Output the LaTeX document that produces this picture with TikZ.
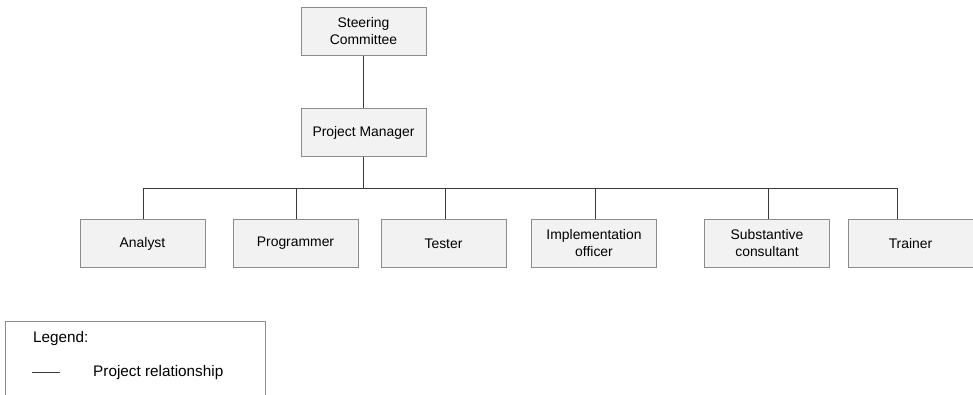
\documentclass[tikz,border=0pt]{standalone}
\usepackage{fontspec}
\setmainfont{Liberation Sans}
\begin{document}
\begin{tikzpicture}[x=1pt,y=-1pt,
  every node/.style={font=\fontsize{13.9}{17}\selectfont},
  role/.style={draw=boxline, fill=boxfill, line width=1pt, minimum width=125pt, minimum height=48pt, inner sep=0pt, align=center, text=black},
  legendtext/.style={anchor=west, inner sep=0pt, font=\fontsize{15.3}{18}\selectfont},
  link/.style={draw=linkcol, line width=1pt}]
\definecolor{boxfill}{HTML}{F2F2F2}
\definecolor{boxline}{HTML}{8C8C8C}
\definecolor{linkcol}{HTML}{3A3A3A}
\useasboundingbox (0,0) rectangle (973,395);
\clip (0,0) rectangle (973,395);

% top of the hierarchy
\node[role] (sc) at (363.5,31.5) {Steering\\Committee};
\node[role] (pm) at (363.5,132.5) {Project Manager};

% team members
\node[role] (an) at (142.5,243.5) {Analyst};
\node[role] (pr) at (295.5,243.5) {Programmer};
\node[role] (te) at (443.5,243.5) {Tester};
\node[role] (io) at (594,243.5) {Implementation\\officer};
\node[role] (su) at (767,243.5) {Substantive\\consultant};
\node[role] (tr) at (910.5,243.5) {Trainer};

% bus line between manager and team
\coordinate (bus) at (363.5,188.5);
\draw[link] (sc.south) -- (pm.north);
\draw[link] (pm.south) -- (bus);
\draw[link] (an.north -| 143,0) |- (bus) -| (897,219.5);
\foreach \n/\x in {pr/296.5, te/445, io/595, su/768}
  \draw[link] (\x,188.5) -- (\n.north -| \x,0);

% legend
\node[draw=boxline, line width=1pt, minimum width=260pt, minimum height=90pt, inner sep=0pt] (lg) at (135,366) {};
\node[legendtext] (lgt) at (33,339) {Legend:};
\node[legendtext] (lgr) at (93,372.5) {Project relationship};
\coordinate (la) at (32,372.5);
\coordinate (lb) at (60,372.5);
\draw[link] (la) -- (lb);
\end{tikzpicture}
\end{document}
